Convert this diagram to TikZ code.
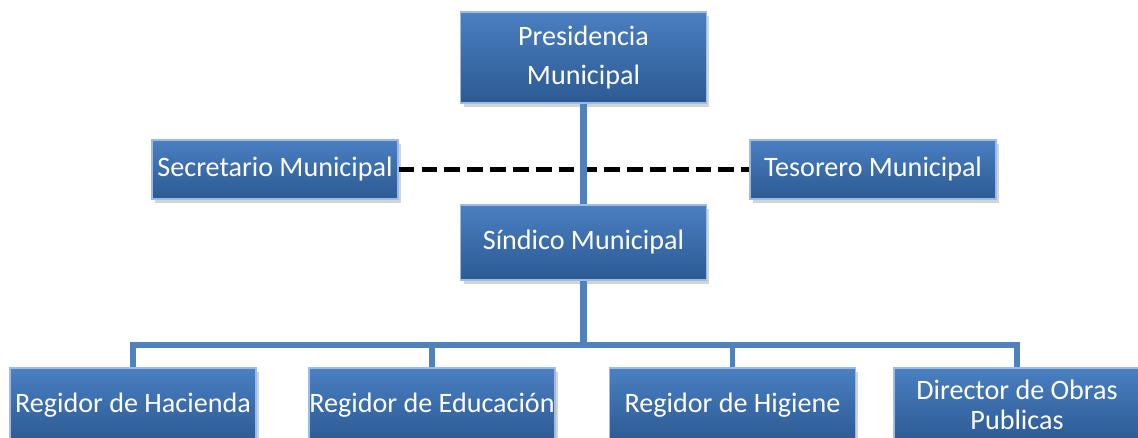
\documentclass[tikz,border=0pt]{standalone}
\usepackage{fontspec}
\setmainfont{Carlito}
\usetikzlibrary{shadows}
\definecolor{boxtop}{HTML}{4A7FC1}
\definecolor{boxbot}{HTML}{2C5A93}
\definecolor{boxedge}{HTML}{9DBCE4}
\definecolor{linkblue}{HTML}{4F81BD}
\tikzset{
  cargo/.style={draw=boxedge,line width=0.8pt,top color=boxtop,bottom color=boxbot,
    text=white,inner sep=0pt,minimum width=4.92cm,align=center,
    font=\fontsize{16}{22.5}\selectfont,
    drop shadow={shadow xshift=0.06cm,shadow yshift=-0.08cm,opacity=0.35}},
  enlace/.style={draw=linkblue,line width=4pt},
  bus/.style={draw=linkblue,line width=3.2pt},
  apoyo/.style={draw=black,line width=3.2pt,dash pattern=on 9pt off 4pt}
}
\begin{document}
\begin{tikzpicture}[x=0.02cm,y=-0.02cm]
                \useasboundingbox (0,0) rectangle (1138,438);
                % niveles superiores
                \node[cargo,minimum height=1.82cm] (pres) at (583.5,57.5) {Presidencia\\Municipal};
                \node[cargo,minimum height=1.18cm] (secr) at (275,169.5) {Secretario Municipal};
                \node[cargo,minimum height=1.18cm] (teso) at (873,169.5) {Tesorero Municipal};
                \node[cargo,minimum height=1.5cm] (sind) at (583.5,242.5) {S\'{\i}ndico Municipal};
                % regidores
                \node[cargo,minimum height=1.48cm] (hac) at (133,405) {Regidor de Hacienda};
                \node[cargo,minimum height=1.48cm] (edu) at (432,405) {Regidor de Educaci\'on};
                \node[cargo,minimum height=1.48cm] (hig) at (732.5,405) {Regidor de Higiene};
                \node[cargo,minimum height=1.48cm,font=\fontsize{16}{17}\selectfont] (obras) at (1017,405) {Director de Obras\\Publicas};
                \coordinate (bus) at (583.5,345);
                
                \draw[apoyo] (secr.east)--(teso.west);
                \draw[enlace] (pres.south)--(sind.north);
                \draw[enlace] (sind.south)--(bus);
                \draw[bus] (hac.north)|-(bus)-|(obras.north);
                \draw[bus] (edu.north)--(edu.north|-bus);
                \draw[bus] (hig.north)--(hig.north|-bus);
            \end{tikzpicture}
\end{document}
